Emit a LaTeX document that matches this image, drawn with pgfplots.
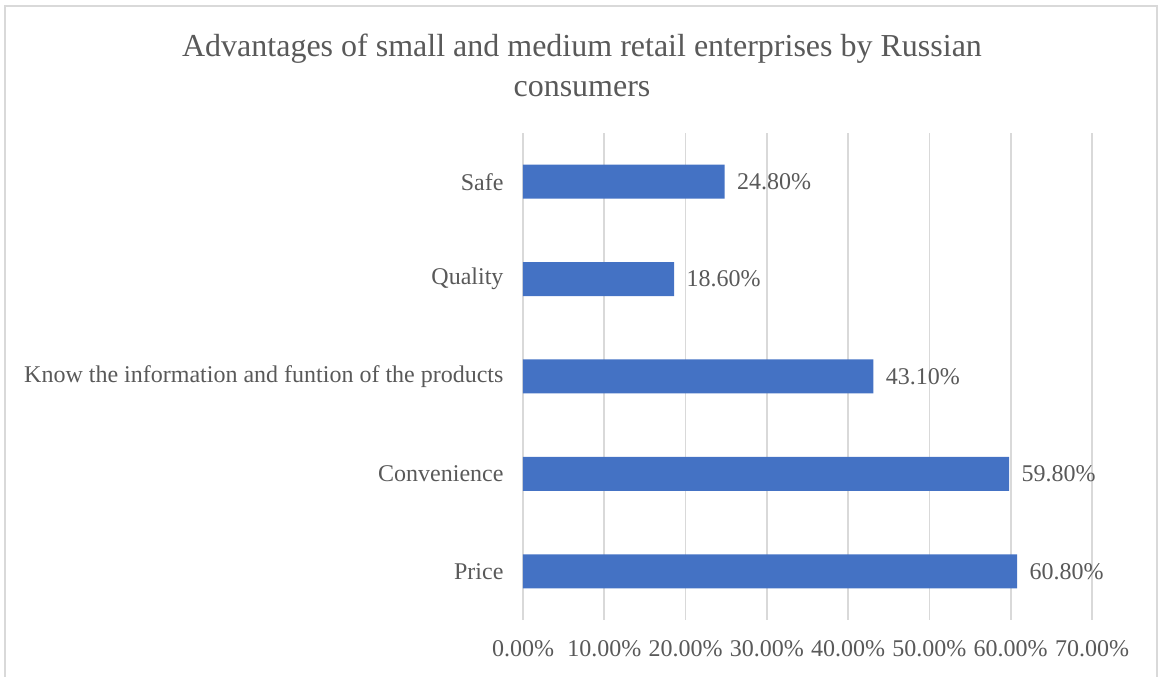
\documentclass[border=0pt]{standalone}
\usepackage{pgfplots}
\pgfplotsset{compat=1.18}
\usepackage{fontspec}
\setmainfont{Liberation Serif}
\definecolor{barblue}{HTML}{4472C4}
\definecolor{txtgray}{HTML}{595959}
\definecolor{gridgray}{HTML}{D9D9D9}
\begin{document}
\begin{tikzpicture}[x=1pt,y=1pt]
\useasboundingbox (0,0) rectangle (1160,677);
\draw[gridgray,line width=2pt] (5,-20) -- (5,671) -- (1157,671) -- (1157,-20);
\node[txtgray,align=center,font=\fontsize{32}{40}\selectfont] at (582,612) {Advantages of small and medium retail enterprises by Russian\\consumers};
\begin{axis}[
  at={(523pt,57pt)}, anchor=south west,
  scale only axis, width=569pt, height=487pt,
  xbar, bar width=34pt,
  xmin=0, xmax=70,
  ymin=-0.5, ymax=4.5,
  ytick={0,1,2,3,4},
  yticklabels={Price,Convenience,Know the information and funtion of the products,Quality,Safe},
  xtick={0,10,20,30,40,50,60,70},
  xticklabels={0.00\%,10.00\%,20.00\%,30.00\%,40.00\%,50.00\%,60.00\%,70.00\%},
  axis line style={draw=none},
  major tick length=0pt,
  xmajorgrids, grid style={gridgray,line width=1.6pt},
  tick label style={txtgray,font=\fontsize{24}{28}\selectfont},
  yticklabel style={xshift=-16pt},
  xticklabel style={yshift=-17pt},
  nodes near coords={\pgfmathprintnumber[fixed,fixed zerofill,precision=2]{\pgfplotspointmeta}\%},
  nodes near coords style={txtgray,font=\fontsize{24}{28}\selectfont,xshift=9pt},
  /pgf/number format/assume math mode=true,
  clip=false,
]
\addplot[fill=barblue,draw=none] coordinates {(60.8,0) (59.8,1) (43.1,2) (18.6,3) (24.8,4)};
\end{axis}
\end{tikzpicture}
\end{document}
